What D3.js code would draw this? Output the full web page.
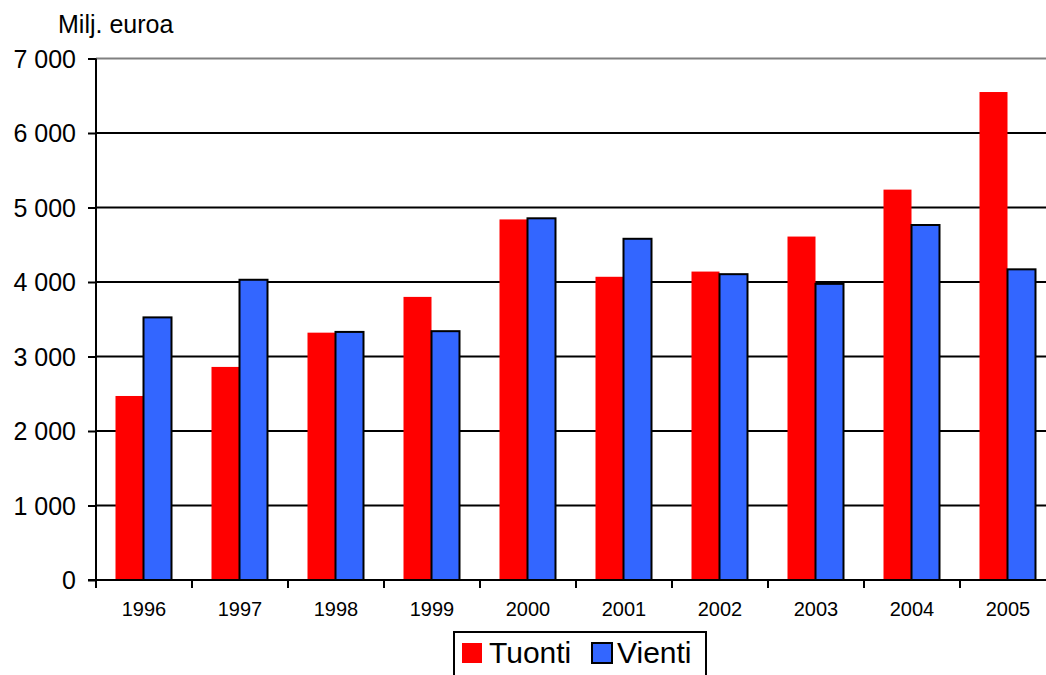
<!DOCTYPE html>
<html lang='fi'>
<head>
  <meta charset='UTF-8'>
  <title>Tuonti ja vienti</title>
  <style>
  body { margin: 0; background: #fff; }
  text { font-family: 'Liberation Sans', Arial, sans-serif; fill: #000; }
  .y.axis text { font-size: 25px; }
  .x.axis text { font-size: 20px; }
  .title { font-size: 25px; }
  .legend text { font-size: 30px; }
  </style>
  <script src="https://d3js.org/d3.v7.min.js"></script>
</head>
<body>
  <script>

  var years = ['1996', '1997', '1998', '1999', '2000', '2001', '2002', '2003', '2004', '2005'];
  var tuonti = [2470, 2860, 3320, 3800, 4840, 4070, 4140, 4610, 5240, 6550];
  var vienti = [3525, 4030, 3330, 3340, 4855, 4580, 4105, 3975, 4765, 4170];
  var seriesNames = ['Tuonti', 'Vienti'];
  var yTicks = [0, 1000, 2000, 3000, 4000, 5000, 6000, 7000];

  var svgWidth = 1046;
  var svgHeight = 675;
  var margin = { top: 58.5, right: -10, bottom: 95, left: 96 };
  var width = svgWidth - margin.left - margin.right;   // runs past the right edge like the original
  var height = svgHeight - margin.top - margin.bottom;

  var colors = { Tuonti: '#ff0000', Vienti: '#3366ff' };

  var svg = d3.select('body').append('svg')
    .attr('width', svgWidth)
    .attr('height', svgHeight);

  var g = svg.append('g').attr('transform', 'translate(' + margin.left + ',' + margin.top + ')');

  var x0 = d3.scaleBand().domain(years).range([0, width]);
  var x1 = d3.scaleBand().domain(seriesNames).range([19.5, x0.bandwidth() - 20.5]);
  var y = d3.scaleLinear().domain([0, 7000]).range([height, 0]);

  var fmt = function (d) { return d3.format(',')(d).replace(/,/g, ' '); };

  // gridlines
  g.selectAll('.grid')
   .data(yTicks.filter(function (d) { return d > 0; }))
   .enter()
   .append('line')
   .attr('class', 'grid')
   .attr('x1', 0)
   .attr('x2', width)
   .attr('y1', function (d) { return y(d); })
   .attr('y2', function (d) { return y(d); })
   .attr('stroke', function (d) { return d === 7000 ? '#808080' : '#000'; })
   .attr('stroke-width', 2);

  // bars
  var rows = years.map(function (yr, i) {
    return { year: yr, values: [{ key: 'Tuonti', value: tuonti[i] }, { key: 'Vienti', value: vienti[i] }] };
  });

  var groups = g.selectAll('.year')
    .data(rows)
    .enter()
    .append('g')
    .attr('class', 'year')
    .attr('transform', function (d) { return 'translate(' + x0(d.year) + ',0)'; });

  groups.selectAll('rect')
    .data(function (d) { return d.values; })
    .enter()
    .append('rect')
    .attr('x', function (d) { return x1(d.key); })
    .attr('y', function (d) { return y(d.value); })
    .attr('width', x1.bandwidth())
    .attr('height', function (d) { return height - y(d.value); })
    .attr('fill', function (d) { return colors[d.key]; })
    .attr('stroke', function (d) { return d.key === 'Vienti' ? '#000' : 'none'; })
    .attr('stroke-width', 2);

  // y axis
  var yAxis = g.append('g')
    .attr('class', 'y axis')
    .call(d3.axisLeft(y).tickValues(yTicks).tickFormat(fmt).tickSize(8).tickPadding(12));
  yAxis.select('.domain').attr('stroke', '#000').attr('stroke-width', 2).attr('d', 'M0,0V' + height);
  yAxis.selectAll('.tick line').attr('stroke', '#000').attr('stroke-width', 2);
  yAxis.selectAll('.tick text').attr('dy', '0.34em');

  // x axis
  var xAxis = g.append('g')
    .attr('class', 'x axis')
    .attr('transform', 'translate(0,' + height + ')')
    .call(d3.axisBottom(x0).tickSize(0).tickPadding(22));
  xAxis.select('.domain').attr('stroke', '#000').attr('stroke-width', 2).attr('d', 'M-8,0H' + width);
  xAxis.selectAll('.tick text').attr('dy', '0.71em');
  xAxis.selectAll('.sep')
    .data(years)
    .enter()
    .append('line')
    .attr('class', 'sep')
    .attr('x1', function (d) { return x0(d); })
    .attr('x2', function (d) { return x0(d); })
    .attr('y1', 0)
    .attr('y2', 8)
    .attr('stroke', '#000')
    .attr('stroke-width', 2);

  // unit label
  svg.append('text')
     .attr('class', 'title')
     .attr('x', 58)
     .attr('y', 33)
     .text('Milj. euroa');

  // legend
  var legend = svg.append('g').attr('class', 'legend').attr('transform', 'translate(454,632)');
  legend.append('rect')
        .attr('width', 252)
        .attr('height', 60)
        .attr('fill', '#fff')
        .attr('stroke', '#000')
        .attr('stroke-width', 2);

  var items = legend.selectAll('.item')
    .data(seriesNames)
    .enter()
    .append('g')
    .attr('class', 'item')
    .attr('transform', function (d, i) { return 'translate(' + (i === 0 ? 8 : 138) + ',0)'; });

  items.append('rect')
       .attr('y', 11)
       .attr('width', 20)
       .attr('height', 20)
       .attr('fill', function (d) { return colors[d]; })
       .attr('stroke', function (d) { return d === 'Vienti' ? '#000' : 'none'; })
       .attr('stroke-width', 2);

  items.append('text')
       .attr('x', function (d, i) { return i === 0 ? 27 : 25; })
       .attr('y', 31)
       .text(function (d) { return d; });
  </script>
</body>
</html>
